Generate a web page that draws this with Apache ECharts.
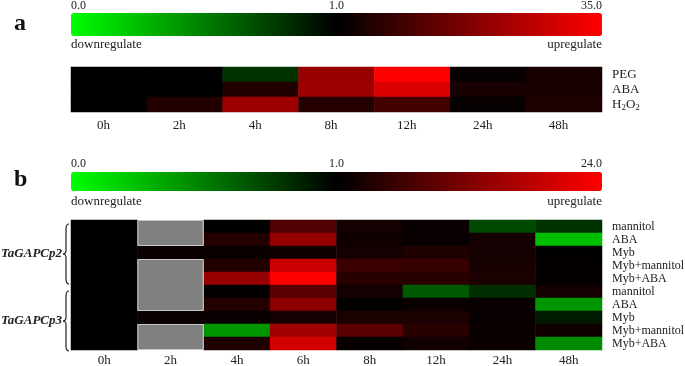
<!DOCTYPE html>
<html>
<head>
<meta charset="utf-8">
<script src="https://cdn.jsdelivr.net/npm/echarts@6/dist/echarts.min.js"></script>
<style>
  html, body { margin: 0; padding: 0; background: #fff; }
  #chart { width: 685px; height: 366px; }
</style>
</head>
<body>
<div id="chart"></div>
<script>
// panel a: fold change, rows PEG / ABA / H2O2
const timesA = ["0h", "2h", "4h", "8h", "12h", "24h", "48h"];
const stressA = ["PEG", "ABA", "H2O2"];
const pegA = [1.0, 1.0, 0.8, 21, 35, 2, 4];
const abaA = [1.0, 1.0, 5.7, 22, 30, 4, 4];
const h2o2A = [1.0, 5.5, 22, 6, 10, 2, 5];
const scaleLabelsA = ["0.0", "1.0", "35.0"];
const maxA = 35;

// panel b: fold change, null = not measured (grey)
const timesB = ["0h", "2h", "4h", "6h", "8h", "12h", "24h", "48h"];
const treatB = ["mannitol", "ABA", "Myb", "Myb+mannitol", "Myb+ABA",
                "mannitol", "ABA", "Myb", "Myb+mannitol", "Myb+ABA"];
const genesB = ["TaGAPCp2", "TaGAPCp3"];
const cp2Mannitol = [1.0, null, 1.3, 8.2, 2.8, 1.7, 0.72, 0.8];
const cp2Aba = [1.0, null, 4.2, 14.5, 2.4, 1.7, 2.8, 0.25];
const cp2Myb = [1.0, 1.8, 1.9, 2.4, 2.8, 3.7, 2.8, 1.2];
const cp2MybMannitol = [1.0, null, 4.2, 19, 6.4, 6.0, 3.0, 1.4];
const cp2MybAba = [1.0, null, 14.5, 24, 4.6, 4.6, 3.3, 1.4];
const cp3Mannitol = [1.0, null, 1.4, 9.0, 2.8, 0.65, 0.82, 2.8];
const cp3Aba = [1.0, null, 4.2, 13.6, 1.3, 1.9, 1.7, 0.41];
const cp3Myb = [1.0, 1.8, 1.7, 2.8, 3.3, 3.3, 1.7, 0.9];
const cp3MybMannitol = [1.0, null, 0.41, 15.4, 9.1, 4.6, 1.9, 2.4];
const cp3MybAba = [1.0, null, 3.7, 20, 1.5, 2.4, 1.9, 0.45];
const scaleLabelsB = ["0.0", "1.0", "24.0"];
const maxB = 24;

const serif = "'Liberation Serif', 'Times New Roman', serif";
const colorRamp = ["#00ff00", "#000000", "#ff0000"];

// 0..1 -> left half of the colour bar, 1..max -> right half
function toPos(v, max) {
  return v <= 1 ? v * 0.5 : 0.5 + 0.5 * (v - 1) / (max - 1);
}

function toCells(rows, max) {
  const out = [];
  rows.forEach((row, r) => {
    row.forEach((v, c) => {
      if (v !== null) out.push([c, r, toPos(v, max), v]);
    });
  });
  return out;
}

// grey blocks = runs of nulls in the 2h column
function greyBlocks(rows) {
  const blocks = [];
  let start = -1;
  rows.forEach((row, r) => {
    if (row[1] === null) {
      if (start < 0) start = r;
    } else if (start >= 0) {
      blocks.push([1, start, r - 1]);
      start = -1;
    }
  });
  if (start >= 0) blocks.push([1, start, rows.length - 1]);
  return blocks;
}

const rowsA = [pegA, abaA, h2o2A];
const rowsB = [cp2Mannitol, cp2Aba, cp2Myb, cp2MybMannitol, cp2MybAba,
               cp3Mannitol, cp3Aba, cp3Myb, cp3MybMannitol, cp3MybAba];

const chart = echarts.init(document.getElementById("chart"));

const txt = (x, y, text, align, extra) => ({
  type: "text", x: x, y: y,
  style: Object.assign({ text: text, font: "12px " + serif, fill: "#222",
    align: align, verticalAlign: "middle" }, extra || {})
});

// curly brace from quadratic curves and two straight lines
function brace(x, y0, y1) {
  const m = (y0 + y1) / 2;
  const st = { stroke: "#222", lineWidth: 1.2, fill: null };
  const q = (x1, y1_, cx, cy, x2, y2) => ({ type: "bezierCurve",
    shape: { x1: x1, y1: y1_, cpx1: cx, cpy1: cy, x2: x2, y2: y2 }, style: st });
  const l = (x1, y1_, x2, y2) => ({ type: "line",
    shape: { x1: x1, y1: y1_, x2: x2, y2: y2 }, style: st });
  return {
    type: "group",
    children: [
      q(x + 3, y0, x, y0, x, y0 + 5),
      l(x, y0 + 5, x, m - 4),
      q(x, m - 4, x, m, x - 3, m),
      q(x - 3, m, x, m, x, m + 4),
      l(x, m + 4, x, y1 - 5),
      q(x, y1 - 5, x, y1, x + 3, y1)
    ]
  };
}

const axisText = { color: "#222", fontFamily: serif, fontSize: 13 };
const up = { font: "13px " + serif };

chart.setOption({
  animation: false,
  grid: [
    { left: 71, top: 67, width: 531, height: 45, outerBoundsMode: "none" },
    { left: 71, top: 220, width: 531, height: 130, outerBoundsMode: "none" }
  ],
  xAxis: [
    { type: "category", gridIndex: 0, data: timesA,
      axisLine: { show: false }, axisTick: { show: false },
      axisLabel: Object.assign({ margin: 7, interval: 0, padding: [0, 11, 0, 0] }, axisText),
      splitLine: { show: false } },
    { type: "category", gridIndex: 1, data: timesB,
      axisLine: { show: false }, axisTick: { show: false },
      axisLabel: Object.assign({ margin: 4, interval: 0 }, axisText), splitLine: { show: false } }
  ],
  yAxis: [
    { type: "category", gridIndex: 0, data: stressA, inverse: true, position: "right",
      axisLine: { show: false }, axisTick: { show: false },
      axisLabel: Object.assign({
        margin: 10, align: "left", interval: 0,
        formatter: (v) => v === "H2O2" ? "H{sub|2}O{sub|2}" : v,
        rich: { sub: { fontFamily: serif, fontSize: 9, color: "#222", verticalAlign: "bottom", padding: [6, 0, 0, 0] } }
      }, axisText) },
    { type: "category", gridIndex: 1, data: treatB.map((_, i) => String(i)), inverse: true, position: "right",
      axisLine: { show: false }, axisTick: { show: false },
      axisLabel: Object.assign({}, axisText, { margin: 10, align: "left", interval: 0, fontSize: 12,
        formatter: (v) => treatB[+v] }) }
  ],
  visualMap: [
    { type: "continuous", seriesIndex: 0, dimension: 2, min: 0, max: 1,
      orient: "horizontal", left: 71, top: 13, itemWidth: 23, itemHeight: 531,
      padding: 0, calculable: false, hoverLink: false, text: null, showLabel: false,
      inRange: { color: colorRamp } },
    { type: "continuous", seriesIndex: 1, dimension: 2, min: 0, max: 1,
      orient: "horizontal", left: 71, top: 172, itemWidth: 19, itemHeight: 531,
      padding: 0, calculable: false, hoverLink: false, text: null, showLabel: false,
      inRange: { color: colorRamp } }
  ],
  series: [
    { type: "heatmap", xAxisIndex: 0, yAxisIndex: 0, data: toCells(rowsA, maxA) },
    { type: "heatmap", xAxisIndex: 1, yAxisIndex: 1, data: toCells(rowsB, maxB) },
    { type: "custom", xAxisIndex: 1, yAxisIndex: 1, data: greyBlocks(rowsB),
      renderItem: (params, api) => {
        const p0 = api.coord([api.value(0), api.value(1)]);
        const size = api.size([1, 1]);
        const n = api.value(2) - api.value(1) + 1;
        return {
          type: "rect",
          shape: { x: p0[0] - size[0] / 2 + 0.5, y: p0[1] - size[1] / 2 + 0.5,
                   width: size[0] - 1, height: size[1] * n - 1 },
          style: { fill: "#808080", stroke: "#c8c8c8", lineWidth: 1 }
        };
      } }
  ],
  graphic: [
    txt(14, 24, "a", "left", { font: "bold 24px " + serif, fill: "#111" }),
    txt(14, 180, "b", "left", { font: "bold 24px " + serif, fill: "#111" }),
    txt(71, 6, scaleLabelsA[0], "left"),
    txt(336.5, 6, scaleLabelsA[1], "center"),
    txt(602, 6, scaleLabelsA[2], "right"),
    txt(71, 45, "downregulate", "left", up),
    txt(602, 45, "upregulate", "right", up),
    txt(71, 164, scaleLabelsB[0], "left"),
    txt(336.5, 164, scaleLabelsB[1], "center"),
    txt(602, 164, scaleLabelsB[2], "right"),
    txt(71, 202, "downregulate", "left", up),
    txt(602, 202, "upregulate", "right", up),
    brace(66, 224, 284),
    brace(66, 291, 351),
    txt(62, 254, genesB[0], "right", { font: "italic bold 13px " + serif }),
    txt(62, 321, genesB[1], "right", { font: "italic bold 13px " + serif })
  ]
});
</script>
</body>
</html>
